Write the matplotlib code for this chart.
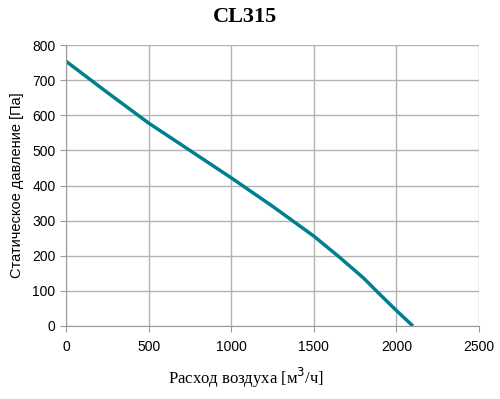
import matplotlib.pyplot as plt

flow = [0, 250, 500, 750, 1000, 1250, 1500, 1650, 1800, 1900, 2000, 2100]
pressure = [754, 665, 578, 500, 422, 341, 256, 198, 137, 90, 44, 0]

x_ticks = [0, 500, 1000, 1500, 2000, 2500]
y_ticks = [0, 100, 200, 300, 400, 500, 600, 700, 800]

fig = plt.figure(figsize=(5, 3.99), dpi=100)
ax = fig.add_axes([0.132, 0.183, 0.826, 0.704])

ax.plot(flow, pressure, color='#00808f', linewidth=2.5, solid_capstyle='butt')

ax.set_xlim(0, 2500)
ax.set_ylim(0, 800)
ax.set_xticks(x_ticks)
ax.set_yticks(y_ticks)
ax.grid(True, color='#b3b3b3', linewidth=1)
ax.set_axisbelow(True)

for s in ['top', 'right']:
    ax.spines[s].set_visible(False)
for s in ['left', 'bottom']:
    ax.spines[s].set_color('#9a9a9a')
ax.tick_params(axis='both', colors='#9a9a9a', length=4, labelcolor='black',
               labelsize=10)
for lab in ax.get_xticklabels() + ax.get_yticklabels():
    lab.set_family('Liberation Sans')
ax.tick_params(axis='x', pad=6)

fig.text(0.491, 0.957, 'CL315', family='Liberation Serif', fontweight='bold',
         fontsize=16, ha='center', va='center')
fig.text(0.492, 0.052, 'Расход воздуха [м$^3$/ч]', family='Liberation Serif',
         fontsize=12, ha='center', va='center')
ax.set_ylabel('Статическое давление [Па]', family='Liberation Sans', fontsize=10.5,
              labelpad=6)

fig.savefig('out.png', dpi=100)
